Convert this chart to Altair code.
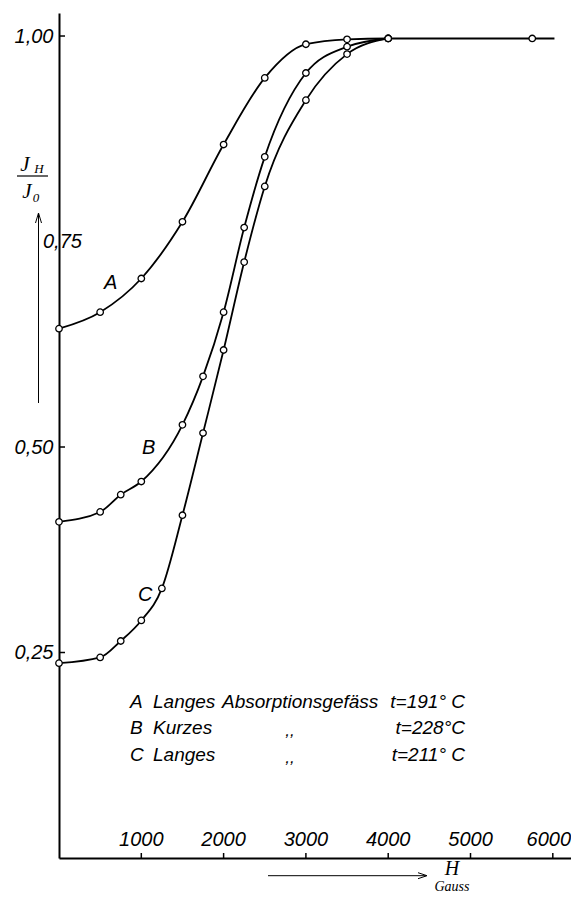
import altair as alt
import pandas as pd

# ---- data ----
H_A = [0, 500, 1000, 1500, 2000, 2500, 3000, 3500, 4000, 5750]
A_vals = [0.644, 0.664, 0.705, 0.774, 0.868, 0.949, 0.990, 0.996, 0.997, 0.997]
H_B = [0, 500, 750, 1000, 1500, 1750, 2000, 2250, 2500, 3000, 3500, 4000]
B_vals = [0.409, 0.421, 0.442, 0.458, 0.527, 0.586, 0.664, 0.767, 0.853, 0.955, 0.987, 0.997]
H_C = [0, 500, 750, 1000, 1250, 1500, 1750, 2000, 2250, 2500, 3000, 3500, 4000]
C_vals = [0.237, 0.244, 0.264, 0.289, 0.328, 0.417, 0.517, 0.618, 0.725, 0.817, 0.922, 0.978, 0.997]
A_tail_H = [6020]
A_tail_v = [0.997]

x_ticks = [1000, 2000, 3000, 4000, 5000, 6000]
y_ticks = [0.25, 0.50, 1.00]

legend_letters = ["A", "B", "C"]
legend_words = ["Langes", "Kurzes", "Langes"]
legend_vessel = ["Absorptionsgefäss", ",,", ",,"]
legend_temps = ["t=191° C", "t=228°C", "t=211° C"]

# ---- layout ----
W, HP = 512, 845
XMAX, YMAX = 6221, 1.028
SANS = "Liberation Sans"
SERIF = "Liberation Serif"

pts = pd.concat([
    pd.DataFrame({"series": "A", "H": H_A, "v": A_vals}),
    pd.DataFrame({"series": "B", "H": H_B, "v": B_vals}),
    pd.DataFrame({"series": "C", "H": H_C, "v": C_vals}),
], ignore_index=True)
lines = pd.concat([pts, pd.DataFrame({"series": "A", "H": A_tail_H, "v": A_tail_v})],
                  ignore_index=True)

xs = alt.Scale(domain=[0, XMAX], nice=False, zero=False)
ys = alt.Scale(domain=[0, YMAX], nice=False, zero=False)

x_axis = alt.Axis(title=None, labels=False, ticks=False, grid=False,
                  domainColor="black", domainWidth=2)
y_axis = alt.Axis(title=None, values=y_ticks, ticks=False, grid=False,
                  labelExpr="replace(format(datum.value,'.2f'),'.',',')",
                  labelPadding=6, labelFont=SANS, labelFontStyle="italic",
                  labelFontSize=20, labelColor="black",
                  domainColor="black", domainWidth=2)

X = alt.X("H:Q", scale=xs, axis=x_axis)
Y = alt.Y("v:Q", scale=ys, axis=y_axis)

line = alt.Chart(lines).mark_line(interpolate="monotone", color="black", strokeWidth=1.8).encode(
    x=X, y=Y, detail="series:N", order="H:Q")

points = alt.Chart(pts).mark_point(shape="circle", filled=True, fill="white", stroke="black",
                                   strokeWidth=1.3, size=42, opacity=1).encode(x=X, y=Y)

yt = alt.Chart(pd.DataFrame({"v": y_ticks})).mark_rule(color="black", strokeWidth=1.5).encode(
    y=Y, x=alt.value(0), x2=alt.value(6))

xt_df = pd.DataFrame({"H": x_ticks, "lab": [str(t) for t in x_ticks]})
xt = alt.Chart(xt_df).mark_rule(color="black", strokeWidth=1.5).encode(
    x=X, y=alt.value(HP - 5), y2=alt.value(HP))
xl = alt.Chart(xt_df).transform_filter("datum.H < 6000").mark_text(
    font=SANS, fontStyle="italic", fontSize=20, color="black",
    baseline="alphabetic", align="center").encode(
    x=X, y=alt.value(HP - 12), text="lab:N")
xl_last = alt.Chart(xt_df).transform_filter("datum.H >= 6000").mark_text(
    font=SANS, fontStyle="italic", fontSize=20, color="black",
    baseline="alphabetic", align="center", dx=-4).encode(
    x=X, y=alt.value(HP - 12), text="lab:N")

y75 = alt.Chart(pd.DataFrame({"v": [0.75], "lab": ["0,75"]})).mark_text(
    font=SANS, fontStyle="italic", fontSize=20, color="black", align="left", baseline="middle").encode(
    y=Y, x=alt.value(-16), text="lab:N")


def txt(s, x, y, size=19, font=SANS, align="left", baseline="middle"):
    return alt.Chart(pd.DataFrame({"t": [s]})).mark_text(
        font=font, fontStyle="italic", fontSize=size, color="black", align=align, baseline=baseline
    ).encode(x=alt.value(x), y=alt.value(y), text="t:N")


def seg(x1, y1, x2, y2, w=1.2):
    return alt.Chart(pd.DataFrame({"k": [0]})).mark_rule(color="black", strokeWidth=w).encode(
        x=alt.value(x1), y=alt.value(y1), x2=alt.value(x2), y2=alt.value(y2))


layers = [line, points, yt, xt, xl, xl_last, y75]

# curve letters
layers += [txt("A", 45, 270, 20), txt("B", 83, 435, 20), txt("C", 79, 582, 20)]

# legend block
rows_y = [689, 715, 742]
for i in range(3):
    layers.append(txt(legend_letters[i], 71, rows_y[i], 19))
    layers.append(txt(legend_words[i], 94, rows_y[i], 19))
    if i == 0:
        layers.append(txt(legend_vessel[i], 163, rows_y[i], 19))
    else:
        layers.append(txt(legend_vessel[i], 231, rows_y[i] + 3, 17, align="center"))
    layers.append(txt(legend_temps[i], 406, rows_y[i], 19, align="right"))

# y axis title J_H / J_0 with arrow
layers += [
    txt("J", -34, 152, 21, SERIF, align="center"),
    txt("H", -20, 156, 13, SERIF, align="center"),
    seg(-42, 163, -11, 163, 1.2),
    txt("J", -32, 179, 21, SERIF, align="center"),
    txt("0", -23, 185, 13, SERIF, align="center"),
    seg(-20.5, 201, -20.5, 390, 1.0),
    seg(-20.5, 200, -23.5, 210, 1.0),
    seg(-20.5, 200, -17.5, 210, 1.0),
]

# x axis title arrow, H / Gauss
layers += [
    seg(209, 862.7, 367, 862.7, 1.0),
    seg(368, 862.7, 359, 859.7, 1.0),
    seg(368, 862.7, 359, 865.7, 1.0),
    txt("H", 393, 856, 20, SERIF, align="center"),
    txt("Gauss", 393, 874, 14, SERIF, align="center"),
]

chart = alt.layer(*layers).properties(
    width=W, height=HP,
    padding={"left": 51, "top": 5, "right": 0, "bottom": 36},
    autosize=alt.AutoSizeParams(type="none"),
    background="white",
).configure_view(stroke=None)

chart.save("out.html", embed_options={"renderer": "svg", "actions": False})
